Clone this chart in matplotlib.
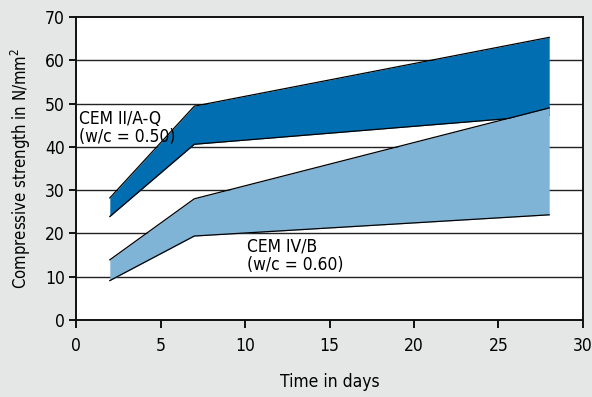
import matplotlib
matplotlib.use("Agg")
import matplotlib.pyplot as plt
from matplotlib import font_manager

days = [2, 7, 28]
cem2_upper = [28.2, 49.4, 65.3]
cem2_lower = [23.9, 40.6, 47.3]
cem4_upper = [13.9, 28.0, 49.0]
cem4_lower = [9.1, 19.4, 24.3]
xticks = [0, 5, 10, 15, 20, 25, 30]
yticks = [0, 10, 20, 30, 40, 50, 60, 70]

condensed = [f for f in font_manager.fontManager.ttflist
             if ('Condensed' in f.fname or 'Narrow' in f.fname) and f.weight in (400, 'normal')
             and 'Bold' not in f.fname and 'Oblique' not in f.fname and 'Italic' not in f.fname]
if condensed:
    fp = font_manager.FontProperties(fname=condensed[0].fname)
    fam = fp.get_name()
    font_manager.fontManager.addfont(condensed[0].fname)
else:
    fam = 'DejaVu Sans'
plt.rcParams['font.family'] = [fam, 'DejaVu Sans']
plt.rcParams['font.stretch'] = 'condensed'

bg = '#e5e6e6'
dark = '#006eb0'
light = '#7fb4d6'
fs = 12.5

fig = plt.figure(figsize=(5.92, 3.97), dpi=100, facecolor=bg)
ax = fig.add_axes([76/592, 1-320/397, (583-76)/592, (320-17)/397])
ax.set_facecolor('white')

for y in yticks[1:-1]:
    ax.axhline(y, color='#222222', lw=1.0, zorder=1)

ax.fill_between(days, cem2_lower, cem2_upper, color=dark, lw=0, zorder=2)
ax.plot(days, cem2_upper, color='black', lw=0.9, zorder=3)
ax.plot(days, cem2_lower, color='black', lw=0.9, zorder=3)
ax.fill_between(days, cem4_lower, cem4_upper, color=light, lw=0, zorder=4)
ax.plot(days, cem4_upper, color='black', lw=0.9, zorder=5)
ax.plot(days, cem4_lower, color='black', lw=0.9, zorder=5)

ax.text(0.2, 48.6, 'CEM II/A-Q\n(w/c = 0.50)', fontsize=fs, va='top', ha='left',
        linespacing=1.0, zorder=6)
ax.text(10.1, 19.0, 'CEM IV/B\n(w/c = 0.60)', fontsize=fs, va='top', ha='left',
        linespacing=1.0, zorder=6)

ax.set_xlim(0, 30)
ax.set_ylim(0, 70)
ax.set_xticks(xticks)
ax.set_yticks(yticks)
ax.tick_params(axis='both', labelsize=fs, direction='out', width=1.3, color='black')
ax.tick_params(axis='x', length=6, pad=6)
ax.tick_params(axis='y', length=5, pad=3)
for s in ax.spines.values():
    s.set_linewidth(1.4)
    s.set_color('#111111')

ax.set_xlabel('Time in days', fontsize=fs, labelpad=13)
ax.set_ylabel('Compressive strength in N/mm$^2$', fontsize=12, labelpad=9)

fig.savefig('out.png', dpi=100, facecolor=bg)
